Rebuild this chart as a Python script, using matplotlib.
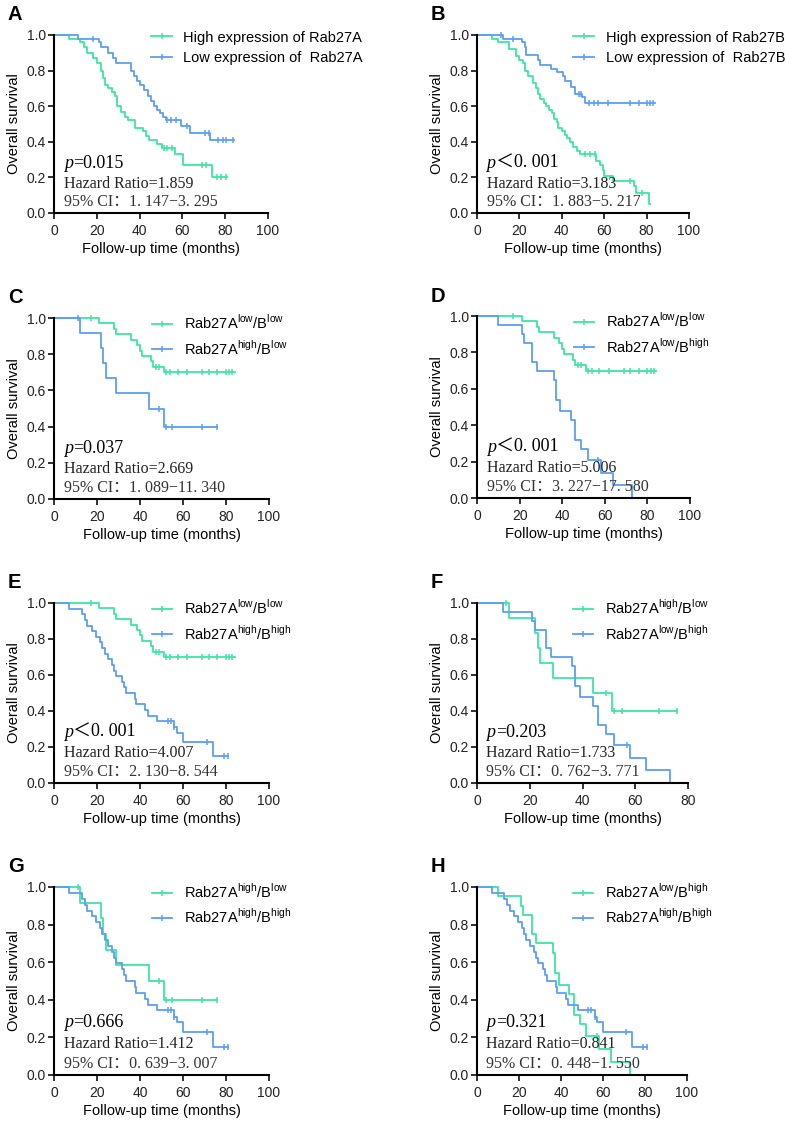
import matplotlib
matplotlib.use("Agg")
import matplotlib.pyplot as plt
from matplotlib.lines import Line2D

GREEN = "#3de6a4"
BLUE = "#5b9ff2"

# ---- данные ----
# A: Rab27A high / low
a_high_t = [0, 7, 12, 14, 15.5, 18, 20, 22, 23, 24, 25, 27, 28.5, 29.5, 31.5, 33, 34.5, 38, 41.5, 43, 44.5, 48, 50.5, 56.5, 60.5, 74]
a_high_s = [1, .98, .96, .93, .90, .87, .84, .80, .76, .72, .70, .68, .655, .60, .57, .54, .52, .48, .46, .43, .41, .385, .365, .33, .27, .20]
a_high_c = [51.5, 53, 55, 69, 71, 76, 78, 80.5]
a_high_end = 81
a_low_t = [0, 11, 21, 22, 25, 27.5, 29, 36, 37.5, 39, 40, 42, 44, 45.5, 46.5, 48, 49.5, 51, 52.5, 59.5, 63.5, 73]
a_low_s = [1, .98, .96, .93, .90, .87, .84, .80, .77, .74, .72, .69, .66, .63, .60, .58, .56, .54, .52, .49, .45, .41]
a_low_c = [18, 53, 54.5, 57, 62, 70.5, 72.5, 76.5, 79, 80.5, 83.5]
a_low_end = 84

# B: Rab27B high / low
b_high_t = [0, 7, 10, 15, 18.5, 20, 21.5, 22.5, 24, 26.5, 28, 29, 29.5, 31.5, 32.5, 34, 35.5, 36.5, 37.5, 38, 40, 41.5, 42.5, 44, 45.5, 47, 48.5, 56, 58, 59.5, 60, 64, 74, 75, 81]
b_high_s = [1, .98, .96, .92, .88, .86, .84, .80, .77, .73, .70, .67, .64, .62, .60, .58, .56, .53, .51, .48, .46, .44, .42, .40, .37, .35, .33, .29, .27, .24, .21, .18, .15, .11, .05]
b_high_c = [51, 53.5, 55.5, 72, 78]
b_high_end = 81.5
b_low_t = [0, 12.3, 21, 22.5, 23.3, 28.8, 29.6, 35, 37.7, 40.5, 41.4, 44.2, 46, 49.5, 51]
b_low_s = [1, .98, .96, .93, .89, .86, .83, .81, .79, .77, .74, .71, .67, .65, .62]
b_low_c = [11.5, 17, 48, 49, 53, 55, 57, 62, 72, 76.5, 80, 81.5, 83]
b_low_end = 84

# группы Rab27A/B
ll_t = [0, 21, 28, 29, 36, 38.5, 40, 41, 45, 46, 51]
ll_s = [1, .97, .94, .91, .88, .85, .82, .79, .76, .73, .70]
ll_c = [17, 47.5, 49, 52, 54, 57.5, 62, 69, 72, 76, 80, 81.5, 83]
ll_end = 84

hl_t = [0, 12, 22, 23, 24, 29, 44, 51]
hl_s = [1, .917, .833, .75, .667, .583, .50, .40]
hl_c = [11, 49, 52, 55, 69, 76]
hl_end = 76

lh_t = [0, 10, 21, 22, 26, 28, 36, 37, 39, 44, 46, 49, 52, 58, 64, 73]
lh_s = [1, .95, .90, .85, .75, .70, .65, .54, .48, .43, .32, .27, .21, .14, .07, 0]
lh_c = [57]
lh_end = 73

hh_t = [0, 7, 13, 14.5, 15.5, 17.5, 19.5, 21.5, 22.5, 23.5, 25, 27, 28, 29, 31.5, 32.5, 33.5, 37.5, 38, 42.5, 43.5, 48, 56, 57, 60, 74]
hh_s = [1, .969, .938, .906, .875, .844, .812, .781, .75, .719, .688, .656, .625, .594, .562, .531, .5, .469, .438, .406, .375, .344, .31, .28, .23, .15]
hh_c = [53, 54.5, 56, 71, 79, 81]
hh_end = 81

LL = "Rab27A$^{\\mathregular{low}}$/B$^{\\mathregular{low}}$"
HL = "Rab27A$^{\\mathregular{high}}$/B$^{\\mathregular{low}}$"
LH = "Rab27A$^{\\mathregular{low}}$/B$^{\\mathregular{high}}$"
HH = "Rab27A$^{\\mathregular{high}}$/B$^{\\mathregular{high}}$"

ll = (ll_t, ll_s, ll_c, ll_end)
hl = (hl_t, hl_s, hl_c, hl_end)
lh = (lh_t, lh_s, lh_c, lh_end)
hh = (hh_t, hh_s, hh_c, hh_end)

panels = [
    ("A", (a_high_t, a_high_s, a_high_c, a_high_end), (a_low_t, a_low_s, a_low_c, a_low_end),
     "High expression of Rab27A", "Low expression of  Rab27A", "=0.015", "1.859", "1. 147\u22123. 295", 100),
    ("B", (b_high_t, b_high_s, b_high_c, b_high_end), (b_low_t, b_low_s, b_low_c, b_low_end),
     "High expression of Rab27B", "Low expression of  Rab27B", "\uff1c0. 001", "3.183", "1. 883\u22125. 217", 100),
    ("C", ll, hl, LL, HL, "=0.037", "2.669", "1. 089\u221211. 340", 100),
    ("D", ll, lh, LL, LH, "\uff1c0. 001", "5.006", "3. 227\u221217. 580", 100),
    ("E", ll, hh, LL, HH, "\uff1c0. 001", "4.007", "2. 130\u22128. 544", 100),
    ("F", hl, lh, HL, LH, "=0.203", "1.733", "0. 762\u22123. 771", 80),
    ("G", hl, hh, HL, HH, "=0.666", "1.412", "0. 639\u22123. 007", 100),
    ("H", lh, hh, LH, HH, "=0.321", "0.841", "0. 448\u22121. 550", 100),
]

# положение осей в пикселях: (left, top, right, bottom)
boxes = [
    (54, 35, 268, 213), (477, 35, 689, 213),
    (54, 318, 269, 499), (477, 316, 690, 498),
    (54, 603, 269, 783), (477, 603, 688, 783),
    (54, 887, 269, 1075), (477, 887, 687, 1075),
]

W, H = 785, 1121
plt.rcParams['font.family'] = ['Liberation Sans', 'DejaVu Sans']
fig = plt.figure(figsize=(W / 100, H / 100), dpi=100)
serif = ['Liberation Serif', 'Noto Sans CJK SC']


def km(ax, curve, color):
    t, s, c, end = curve
    xs = list(t) + [end]
    ys = list(s) + [s[-1]]
    ax.plot(xs, ys, drawstyle='steps-post', color=color, lw=1.3, clip_on=False)
    cy = []
    for ct in c:
        v = s[0]
        for ti, si in zip(t, s):
            if ti <= ct:
                v = si
        cy.append(v)
    ax.plot(c, cy, ls='none', marker='|', ms=5, mew=1.1, color=color, clip_on=False)


for (letter, g, b, lg, lb, ptxt, hr, ci, xmax), (l, tp, r, bt) in zip(panels, boxes):
    ax = fig.add_axes([l / W, 1 - bt / H, (r - l) / W, (bt - tp) / H])
    km(ax, g, GREEN)
    km(ax, b, BLUE)
    ax.set_xlim(0, xmax)
    ax.set_ylim(0, 1.0)
    ax.set_xticks(range(0, xmax + 1, 20))
    ax.set_yticks([0, 0.2, 0.4, 0.6, 0.8, 1.0])
    ax.set_yticklabels(["0.0", "0.2", "0.4", "0.6", "0.8", "1.0"])
    for sp in ['top', 'right']:
        ax.spines[sp].set_visible(False)
    for sp in ['left', 'bottom']:
        ax.spines[sp].set_linewidth(1.5)
    ax.tick_params(direction='out', length=4, width=1.3, labelsize=10, colors='#222222')
    ax.tick_params(axis='x', pad=4)
    ax.tick_params(axis='y', pad=2)
    ax.set_xlabel("Follow-up time (months)", fontsize=10.5, labelpad=3)
    ax.set_ylabel("Overall survival", fontsize=10.5, labelpad=4)

    handles = [Line2D([], [], color=GREEN, lw=1.3, marker='|', ms=5, mew=1.1),
               Line2D([], [], color=BLUE, lw=1.3, marker='|', ms=5, mew=1.1)]
    ax.legend(handles, [lg, lb], loc='upper left', bbox_to_anchor=(0.455, 1.025),
              frameon=False, fontsize=10.5, handlelength=1.4, handletextpad=0.8,
              labelspacing=0.45, borderaxespad=0, borderpad=0)

    ax.text(0.045, 0.28, "p", transform=ax.transAxes, fontsize=13,
            family=serif, style='italic', va='center')
    ax.annotate(ptxt, xy=(0.045, 0.28), xycoords='axes fraction', xytext=(7, 0),
                textcoords='offset points', fontsize=13, family=serif, va='center')
    ax.text(0.045, 0.165, "Hazard Ratio=" + hr, transform=ax.transAxes, fontsize=11.5,
            family=serif, va='center', color='#222222')
    ax.text(0.045, 0.06, "95% CI\uff1a" + ci, transform=ax.transAxes, fontsize=11.5,
            family=serif, va='center', color='#333333')

    fig.text((l - 46) / W, 1 - (tp - 20) / H, letter, fontsize=14.5, fontweight='bold',
             va='center', ha='left')

fig.savefig("out.png", dpi=100)
